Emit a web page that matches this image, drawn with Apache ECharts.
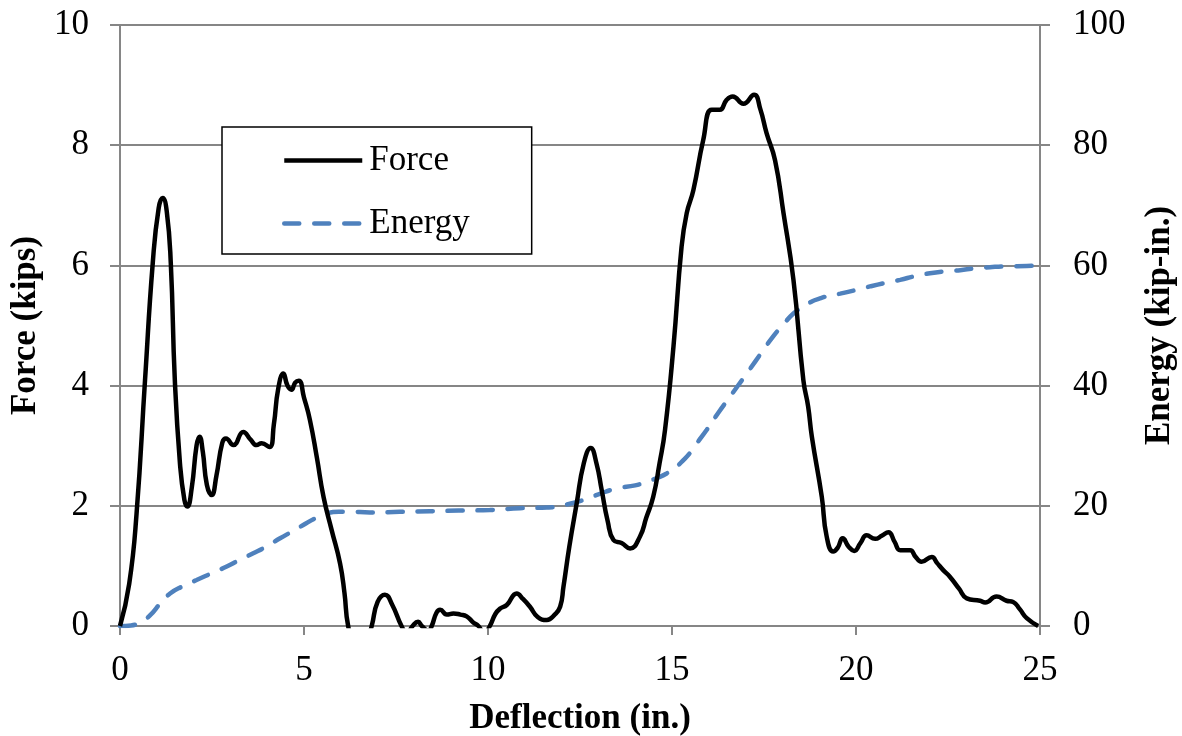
<!DOCTYPE html>
<html>
<head>
<meta charset="utf-8">
<script src="https://cdn.jsdelivr.net/npm/echarts@6/dist/echarts.min.js"></script>
<style>
  html, body { margin: 0; padding: 0; background: #fff; }
  #chart { width: 1182px; height: 736px; }
</style>
</head>
<body>
<div id="chart"></div>
<script>
// force trace
var forceDefl = [0, 0.25, 0.45, 0.68, 0.89, 1.05, 1.16, 1.27, 1.38, 1.49, 1.63, 1.75, 1.83, 1.95, 2.08, 2.16, 2.25, 2.36, 2.49, 2.62, 2.78, 2.88, 3.08, 3.35, 3.55, 3.71, 3.85, 4.06, 4.18, 4.3, 4.44, 4.55, 4.66, 4.76, 4.86, 5.0, 5.16, 5.35, 5.53, 5.75, 5.98, 6.1, 6.2, 6.5, 6.84, 7.0, 7.2, 7.4, 7.65, 7.8, 7.95, 8.1, 8.2, 8.38, 8.47, 8.6, 8.7, 8.88, 9.06, 9.25, 9.42, 9.6, 9.74, 9.9, 10.05, 10.2, 10.33, 10.51, 10.78, 10.95, 11.14, 11.35, 11.6, 11.8, 11.96, 12.05, 12.21, 12.41, 12.6, 12.79, 12.95, 13.09, 13.25, 13.41, 13.63, 13.86, 14.13, 14.3, 14.49, 14.66, 14.81, 15.04, 15.26, 15.4, 15.58, 15.85, 16.08, 16.3, 16.48, 16.65, 16.94, 17.23, 17.4, 17.57, 17.8, 18.03, 18.3, 18.57, 18.7, 18.8, 19.07, 19.2, 19.38, 19.5, 19.64, 19.8, 19.95, 20.12, 20.29, 20.52, 20.7, 20.88, 21.05, 21.2, 21.47, 21.62, 21.78, 22.06, 22.2, 22.37, 22.55, 22.8, 23.01, 23.37, 23.51, 23.82, 24.09, 24.27, 24.45, 24.64, 24.95];
var forceKips = [0, 0.7, 1.87, 4.09, 6.04, 6.95, 7.12, 6.9, 6.04, 4.09, 2.7, 2.1, 1.99, 2.3, 3.0, 3.15, 2.9, 2.35, 2.18, 2.5, 3.05, 3.12, 3.01, 3.23, 3.1, 3.01, 3.04, 2.98, 3.35, 3.95, 4.2, 4.0, 3.93, 4.05, 4.08, 3.8, 3.43, 2.8, 2.15, 1.6, 1.04, 0.55, 0, -0.7, 0, 0.4, 0.52, 0.35, 0, -0.12, 0, 0.07, 0, -0.08, 0, 0.22, 0.27, 0.19, 0.21, 0.19, 0.16, 0.06, 0, -0.12, 0, 0.2, 0.29, 0.35, 0.54, 0.45, 0.32, 0.15, 0.1, 0.18, 0.32, 0.65, 1.32, 2.04, 2.7, 2.96, 2.7, 2.26, 1.75, 1.43, 1.38, 1.29, 1.49, 1.8, 2.15, 2.7, 3.26, 4.65, 6.31, 6.87, 7.25, 8.09, 8.59, 8.59, 8.75, 8.81, 8.69, 8.84, 8.6, 8.2, 7.75, 6.87, 5.76, 4.09, 3.65, 3.15, 2.15, 1.5, 1.24, 1.3, 1.46, 1.32, 1.25, 1.38, 1.51, 1.45, 1.5, 1.56, 1.4, 1.26, 1.26, 1.15, 1.07, 1.15, 1.05, 0.93, 0.82, 0.62, 0.46, 0.42, 0.39, 0.49, 0.42, 0.4, 0.28, 0.13, 0];

// energy trace
var energyDefl = [0, 0.3, 0.6, 0.82, 1.1, 1.36, 1.7, 2.08, 2.5, 2.9, 3.25, 3.62, 4.0, 4.35, 4.7, 4.98, 5.3, 5.62, 5.95, 6.25, 6.79, 7.6, 8.42, 9.2, 10.05, 10.87, 11.6, 11.87, 12.2, 12.59, 13.0, 13.5, 14.0, 14.31, 14.67, 14.86, 15.1, 15.31, 15.49, 15.7, 15.94, 16.25, 16.58, 17.03, 17.48, 17.75, 18.03, 18.3, 18.57, 18.8, 19.02, 19.3, 19.57, 20.0, 20.38, 20.8, 21.2, 21.6, 22.01, 22.4, 22.83, 23.2, 23.64, 24.1, 24.64, 24.95];
var energyKipIn = [0, 0.1, 0.8, 1.8, 3.8, 5.4, 6.6, 7.65, 8.8, 9.9, 11.0, 12.1, 13.3, 14.6, 15.8, 16.8, 17.9, 18.75, 19.0, 19.0, 18.9, 19.0, 19.1, 19.2, 19.3, 19.6, 19.7, 19.85, 20.3, 20.96, 21.9, 22.9, 23.4, 24.0, 24.8, 25.4, 26.4, 27.6, 28.8, 30.6, 32.6, 35.4, 38.2, 42.0, 45.9, 48.2, 50.2, 52.0, 53.1, 54.0, 54.5, 55.0, 55.3, 55.9, 56.5, 57.1, 57.6, 58.2, 58.7, 59.0, 59.2, 59.5, 59.7, 59.85, 59.9, 60.0];

var xTicks = [0, 5, 10, 15, 20, 25];
var forceTicks = [0, 2, 4, 6, 8, 10];
var energyTicks = [0, 20, 40, 60, 80, 100];

function pairs(xs, ys) {
  return xs.map(function (x, i) { return [x, ys[i]]; });
}

var FONT = 'Liberation Serif';
var GREY = '#868686';

var myChart = echarts.init(document.getElementById('chart'));
var option = {
  animation: false,
  textStyle: { fontFamily: FONT },
  grid: {
    left: 120, right: 142, top: 25, bottom: 110,
    outerBoundsMode: 'none', containLabel: false,
    show: true, borderColor: '#000', borderWidth: 1.5
  },
  legend: {
    orient: 'vertical',
    left: 222, top: 127,
    padding: [16, 62, 13, 60],
    itemWidth: 78, itemHeight: 36, itemGap: 28,
    backgroundColor: '#fff',
    borderColor: '#000', borderWidth: 1.5, borderRadius: 0,
    itemStyle: { opacity: 0 },
    lineStyle: { width: 4.5 },
    textStyle: { fontFamily: FONT, fontSize: 35, color: '#000', padding: [0, 0, 0, 2] },
    data: ['Force', 'Energy']
  },
  xAxis: {
    type: 'value',
    min: xTicks[0], max: xTicks[xTicks.length - 1], interval: 5,
    name: 'Deflection (in.)', nameLocation: 'middle', nameGap: 75,
    nameTextStyle: { fontFamily: FONT, fontSize: 35, fontWeight: 'bold', color: '#000' },
    axisLine: { lineStyle: { color: GREY, width: 2 } },
    axisTick: { show: true, length: 9, lineStyle: { color: GREY, width: 2 } },
    axisLabel: { fontFamily: FONT, fontSize: 35, color: '#000', margin: 27 },
    splitLine: { show: false }
  },
  yAxis: [{
    type: 'value',
    min: forceTicks[0], max: forceTicks[forceTicks.length - 1], interval: 2,
    name: 'Force (kips)', nameLocation: 'middle', nameGap: 71, nameRotate: 90,
    nameTextStyle: { fontFamily: FONT, fontSize: 35, fontWeight: 'bold', color: '#000' },
    axisLine: { show: true, lineStyle: { color: GREY, width: 2 } },
    axisTick: { show: true, length: 10, lineStyle: { color: GREY, width: 2 } },
    axisLabel: { fontFamily: FONT, fontSize: 35, color: '#000', margin: 31 },
    splitLine: { show: true, lineStyle: { color: GREY, width: 2 } }
  }, {
    type: 'value', position: 'right',
    min: energyTicks[0], max: energyTicks[energyTicks.length - 1], interval: 20,
    name: 'Energy (kip-in.)', nameLocation: 'middle', nameGap: 102, nameRotate: 90,
    nameTextStyle: { fontFamily: FONT, fontSize: 35, fontWeight: 'bold', color: '#000' },
    axisLine: { show: true, lineStyle: { color: GREY, width: 2 } },
    axisTick: { show: true, length: 10, lineStyle: { color: GREY, width: 2 } },
    axisLabel: { fontFamily: FONT, fontSize: 35, color: '#000', margin: 33 },
    splitLine: { show: false }
  }],
  series: [{
    name: 'Force',
    type: 'line',
    yAxisIndex: 0,
    data: pairs(forceDefl, forceKips),
    smooth: 0.5,
    symbol: 'none',
    clip: true,
    z: 3,
    lineStyle: { color: '#000', width: 4.5 },
    itemStyle: { color: '#000' }
  }, {
    name: 'Energy',
    type: 'line',
    yAxisIndex: 1,
    data: pairs(energyDefl, energyKipIn),
    smooth: 0.5,
    symbol: 'none',
    z: 2,
    lineStyle: { color: '#4F81BD', width: 4.5, type: [15, 15], cap: 'round' },
    itemStyle: { color: '#4F81BD' }
  }]
};
myChart.setOption(option);
</script>
</body>
</html>
